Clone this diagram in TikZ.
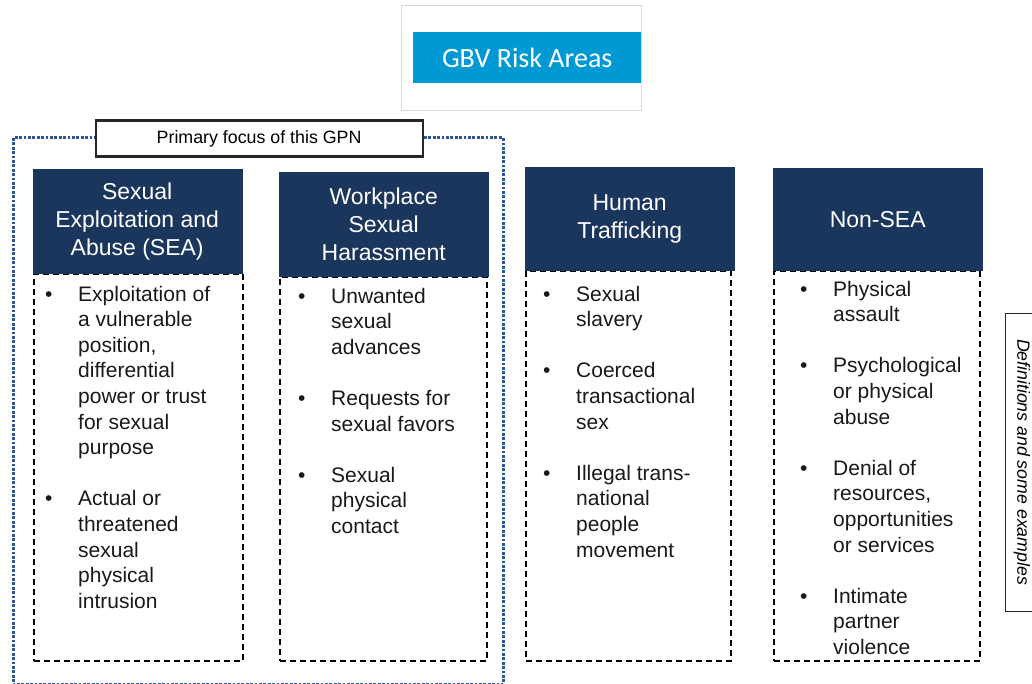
\documentclass[tikz,border=0pt]{standalone}
\usepackage{fontspec}
\setmainfont{Liberation Sans}
\newfontfamily\calib{Carlito}
\usepackage{array}
\definecolor{navy}{RGB}{27,54,93}
\definecolor{gbvblue}{RGB}{0,153,212}
\definecolor{framebl}{RGB}{47,85,151}
\definecolor{lgray}{RGB}{217,217,217}
\tikzset{
  hdr/.style={fill=navy, draw=navy, text=white, anchor=north west, inner sep=0pt,
    minimum width=209pt, minimum height=103pt, align=center,
    font=\fontsize{23}{28}\selectfont},
  dbox/.style={draw=black, line width=1.7pt, dash pattern=on 6pt off 4pt,
    anchor=north west, inner sep=0pt, minimum width=209pt, minimum height=387pt},
  bodytxt/.style={anchor=north west, inner sep=0pt, text=black!90,
    font=\fontsize{21}{25.6}\selectfont},
}
\newcommand{\bl}{\textbullet}
\begin{document}
\begin{tikzpicture}[x=1pt,y=-1pt]
\useasboundingbox (0,0) rectangle (1032,684);
% title
\node[draw=lgray, line width=0.8pt, anchor=north west, minimum width=240pt, minimum height=105pt, inner sep=0pt] (tframe) at (401,5) {};
\node[fill=gbvblue, text=white, anchor=north west, minimum width=228pt, minimum height=51pt, inner sep=0pt,
  font=\calib\fontsize{28}{32}\selectfont] (title) at (413,32) {GBV Risk Areas};
% primary focus frame
\draw[framebl, line width=3pt, dash pattern=on 2.8pt off 1.6pt] (13.5,138) rectangle (503,684.5);
\node[draw=black!85, line width=2.2pt, fill=white, anchor=north west, minimum width=327pt, minimum height=36pt, inner sep=0pt,
  font=\fontsize{17.8}{20}\selectfont] (focus) at (94.5,119.5) {Primary focus of this GPN};
% dashed boxes
\node[dbox] (b1) at (33,273) {};
\node[dbox, minimum width=207pt, minimum height=384pt] (b2) at (279,276) {};
\node[dbox, minimum width=205pt, minimum height=390pt] (b3) at (525,270) {};
\node[dbox, minimum width=206pt, minimum height=390pt] (b4) at (773,270) {};
% headers
\node[hdr, minimum height=104pt] (h1) at (32.5,169.5) {Sexual\\Exploitation and\\Abuse (SEA)};
\node[hdr, minimum height=104pt] (h2) at (279,172) {Workplace\\Sexual\\Harassment};
\node[hdr, minimum height=103pt] (h3) at (525,167) {Human\\Trafficking};
\node[hdr, minimum height=102pt] (h4) at (773,168) {Non-SEA};
% bullet lists
\node[bodytxt] (l1) at (45,283) {\begin{tabular}{@{}p{33pt}@{}l@{}}
\bl & Exploitation of\\ & a vulnerable\\ & position,\\ & differential\\ & power or trust\\ & for sexual\\ & purpose\\ & \\
\bl & Actual or\\ & threatened\\ & sexual\\ & physical\\ & intrusion
\end{tabular}};
\node[bodytxt] (l2) at (298,285) {\begin{tabular}{@{}p{33pt}@{}l@{}}
\bl & Unwanted\\ & sexual\\ & advances\\ & \\
\bl & Requests for\\ & sexual favors\\ & \\
\bl & Sexual\\ & physical\\ & contact
\end{tabular}};
\node[bodytxt] (l3) at (543,283) {\begin{tabular}{@{}p{33pt}@{}l@{}}
\bl & Sexual\\ & slavery\\ & \\
\bl & Coerced\\ & transactional\\ & sex\\ & \\
\bl & Illegal trans-\\ & national\\ & people\\ & movement
\end{tabular}};
\node[bodytxt] (l4) at (800,278) {\begin{tabular}{@{}p{33pt}@{}l@{}}
\bl & Physical\\ & assault\\ & \\
\bl & Psychological\\ & or physical\\ & abuse\\ & \\
\bl & Denial of\\ & resources,\\ & opportunities\\ & or services\\ & \\
\bl & Intimate\\ & partner\\ & violence
\end{tabular}};
% definitions
\node[draw=black!85, line width=1.4pt, anchor=north west, minimum width=45pt, minimum height=298pt, inner sep=0pt] (defbox) at (1005,313) {};
\node[rotate=-90, inner sep=0pt, font=\itshape\fontsize{17.7}{20}\selectfont] (deftxt) at (1022,462) {Definitions and some examples};
\end{tikzpicture}
\end{document}
